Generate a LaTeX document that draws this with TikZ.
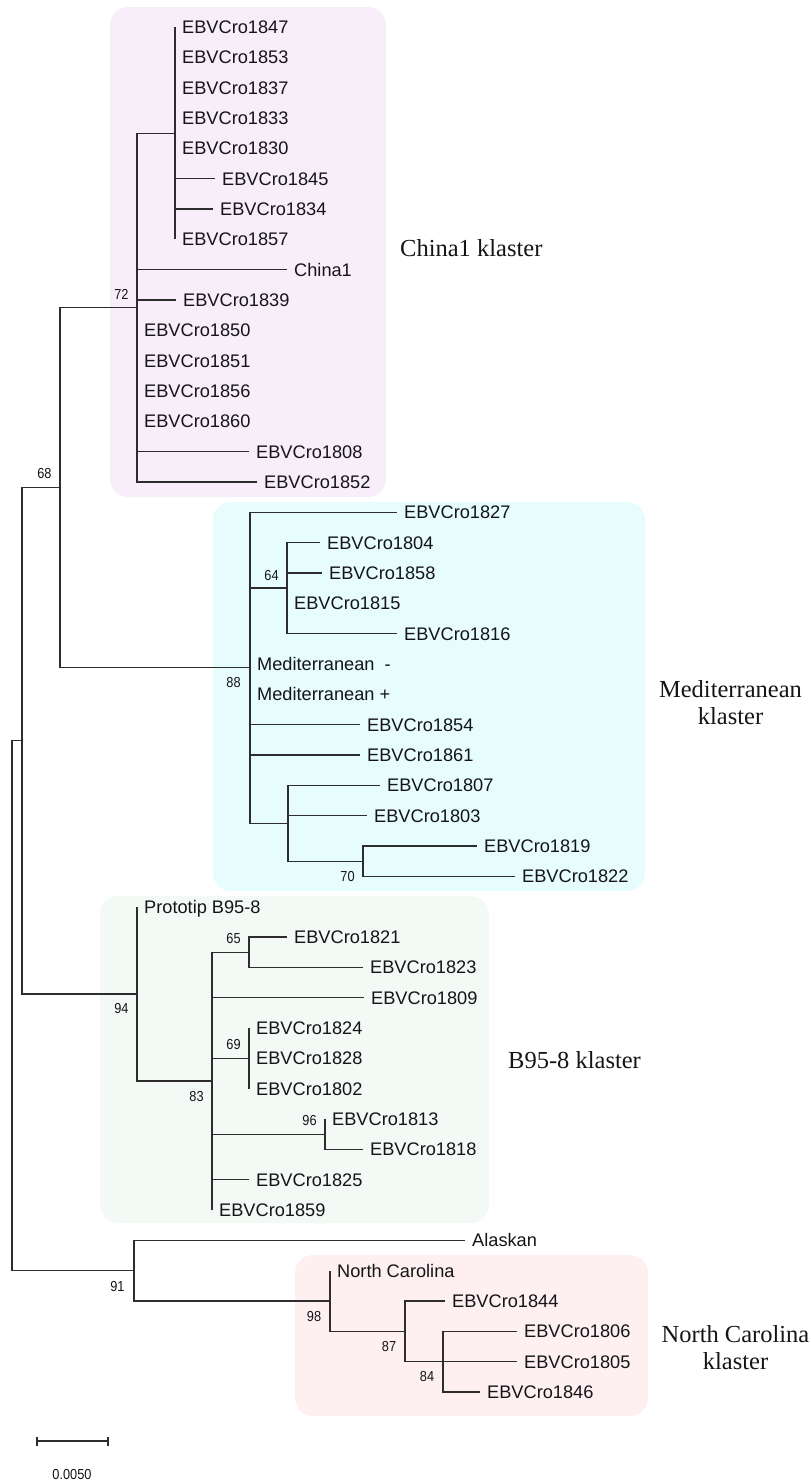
\documentclass[tikz,border=0pt]{standalone}
\usepackage{fontspec}
\newfontfamily\lsans{Liberation Sans}
\newfontfamily\lsansn[FakeStretch=0.88]{Liberation Sans}
\newfontfamily\lserif{Liberation Serif}
\definecolor{chinaC}{RGB}{248,238,249}
\definecolor{medC}{RGB}{230,252,253}
\definecolor{bC}{RGB}{243,250,246}
\definecolor{ncC}{RGB}{254,240,240}
\definecolor{lineC}{RGB}{45,45,45}
\definecolor{txtC}{RGB}{20,20,25}
\tikzset{
  leaf/.style={anchor=west, inner xsep=7pt, inner ysep=0pt, text=txtC,
    font=\lsans\fontsize{18.2}{20}\selectfont, text height=13pt, text depth=0pt},
  boot/.style={inner sep=0pt, text=txtC, font=\lsansn\fontsize{14.5}{16}\selectfont},
  br/.style={line width=1.3pt, draw=lineC},
  clus/.style={inner sep=0pt, text=txtC, align=center,
    font=\lserif\fontsize{24.5}{27}\selectfont},
  cbox/.style={rounded corners=18pt}
}
\begin{document}
\begin{tikzpicture}[x=1pt,y=-1pt]
\useasboundingbox (0,0) rectangle (811,1483);
% cluster backgrounds
\fill[chinaC, cbox] (110,7) rectangle (386,497);
\fill[medC, cbox] (213,502) rectangle (645,891);
\fill[bC, cbox] (100,896) rectangle (489,1223);
\fill[ncC, cbox] (295,1255) rectangle (648,1416);

% internal nodes
\coordinate (na) at (175,133.2);
\coordinate (n72) at (137,307.6);
\coordinate (n64) at (287,588.1);
\coordinate (n70) at (363,861.2);
\coordinate (nb) at (288,823.2);
\coordinate (n88) at (250,667.8);
\coordinate (n68) at (60,487.7);
\coordinate (n65) at (249,952.2);
\coordinate (n69) at (249,1058.3);
\coordinate (n96) at (325,1134.2);
\coordinate (n83) at (212,1081.1);
\coordinate (n94) at (137,993.9);
\coordinate (nA) at (22,740.8);
\coordinate (n84) at (443,1361.7);
\coordinate (n87) at (405,1331.3);
\coordinate (n98) at (330,1301);
\coordinate (n91) at (134,1270.6);
\coordinate (root) at (12,1005.7);

% leaves
\node[leaf] (l0) at (175,27) {EBVCro1847};
\node[leaf] (l1) at (175,57.3) {EBVCro1853};
\node[leaf] (l2) at (175,87.7) {EBVCro1837};
\node[leaf] (l3) at (175,118) {EBVCro1833};
\node[leaf] (l4) at (175,148.3) {EBVCro1830};
\node[leaf] (l5) at (215,178.7) {EBVCro1845};
\node[leaf] (l6) at (213,209) {EBVCro1834};
\node[leaf] (l7) at (175,239.3) {EBVCro1857};
\node[leaf] (l8) at (287,269.6) {China1};
\node[leaf] (l9) at (176,300) {EBVCro1839};
\node[leaf] (l10) at (137,330.3) {EBVCro1850};
\node[leaf] (l11) at (137,360.6) {EBVCro1851};
\node[leaf] (l12) at (137,391) {EBVCro1856};
\node[leaf] (l13) at (137,421.3) {EBVCro1860};
\node[leaf] (l14) at (249,451.6) {EBVCro1808};
\node[leaf] (l15) at (257,482) {EBVCro1852};
\node[leaf] (l16) at (397,512.3) {EBVCro1827};
\node[leaf] (l17) at (320,542.6) {EBVCro1804};
\node[leaf] (l18) at (322,573) {EBVCro1858};
\node[leaf] (l19) at (287,603.3) {EBVCro1815};
\node[leaf] (l20) at (397,633.6) {EBVCro1816};
\node[leaf] (l21) at (250,664) {Mediterranean\ \ -};
\node[leaf] (l22) at (250,694.3) {Mediterranean +};
\node[leaf] (l23) at (360,724.6) {EBVCro1854};
\node[leaf] (l24) at (360,755) {EBVCro1861};
\node[leaf] (l25) at (380,785.3) {EBVCro1807};
\node[leaf] (l26) at (367,815.6) {EBVCro1803};
\node[leaf] (l27) at (477,846) {EBVCro1819};
\node[leaf] (l28) at (515,876.3) {EBVCro1822};
\node[leaf] (l29) at (137,906.6) {Prototip B95-8};
\node[leaf] (l30) at (287,937) {EBVCro1821};
\node[leaf] (l31) at (363,967.3) {EBVCro1823};
\node[leaf] (l32) at (364,997.6) {EBVCro1809};
\node[leaf] (l33) at (249,1028) {EBVCro1824};
\node[leaf] (l34) at (249,1058.3) {EBVCro1828};
\node[leaf] (l35) at (249,1088.6) {EBVCro1802};
\node[leaf] (l36) at (325,1119) {EBVCro1813};
\node[leaf] (l37) at (363,1149.3) {EBVCro1818};
\node[leaf] (l38) at (249,1179.6) {EBVCro1825};
\node[leaf] (l39) at (212,1210) {EBVCro1859};
\node[leaf] (l40) at (465,1240.3) {Alaskan};
\node[leaf] (l41) at (330,1270.6) {North Carolina};
\node[leaf] (l42) at (445,1301) {EBVCro1844};
\node[leaf] (l43) at (517,1331.3) {EBVCro1806};
\node[leaf] (l44) at (517,1361.6) {EBVCro1805};
\node[leaf] (l45) at (480,1392) {EBVCro1846};

% branches between internal nodes
\foreach \p/\c in {root/nA, root/n91, nA/n68, nA/n94, n68/n72, n68/n88,
  n72/na, n88/n64, n88/nb, nb/n70, n94/n83, n83/n65, n83/n69, n83/n96,
  n91/n98, n98/n87, n87/n84}
  \draw[br] (\p) |- (\c);
% branches to leaves
\foreach \p/\c in {na/l0, na/l1, na/l2, na/l3, na/l4, na/l5, na/l6, na/l7,
  n72/l8, n72/l9, n72/l10, n72/l11, n72/l12, n72/l13, n72/l14, n72/l15,
  n88/l16, n64/l17, n64/l18, n64/l19, n64/l20, n88/l21, n88/l22, n88/l23, n88/l24,
  nb/l25, nb/l26, n70/l27, n70/l28, n94/l29, n65/l30, n65/l31, n83/l32,
  n69/l33, n69/l34, n69/l35, n96/l36, n96/l37, n83/l38, n83/l39,
  n91/l40, n98/l41, n87/l42, n84/l43, n84/l44, n84/l45}
  \draw[br] (\p) |- (\c.west);

% bootstrap values
\node[boot] (b72) at ([shift={(-15.5,-13)}]n72) {72};
\node[boot] (b68) at ([shift={(-15.5,-14.5)}]n68) {68};
\node[boot] (b64) at ([shift={(-15.5,-13)}]n64) {64};
\node[boot] (b88) at ([shift={(-16.5,15)}]n88) {88};
\node[boot] (b70) at ([shift={(-15.5,15.5)}]n70) {70};
\node[boot] (b94) at ([shift={(-15.5,15)}]n94) {94};
\node[boot] (b83) at ([shift={(-15.5,15.5)}]n83) {83};
\node[boot] (b65) at ([shift={(-15.5,-14)}]n65) {65};
\node[boot] (b69) at ([shift={(-15.5,-14)}]n69) {69};
\node[boot] (b96) at ([shift={(-15.5,-14)}]n96) {96};
\node[boot] (b91) at ([shift={(-16.5,15.5)}]n91) {91};
\node[boot] (b98) at ([shift={(-16,15.5)}]n98) {98};
\node[boot] (b87) at ([shift={(-16,15)}]n87) {87};
\node[boot] (b84) at ([shift={(-16,15)}]n84) {84};

% cluster names
\node[clus, anchor=west] (cc) at (400,248) {China1 klaster};
\node[clus] (cm) at (730.5,703) {Mediterranean\\klaster};
\node[clus, anchor=west] (cb) at (508,1060) {B95-8 klaster};
\node[clus] (cn) at (735.5,1348) {North Carolina\\klaster};

% scale bar
\coordinate (sb1) at (37,1441);
\coordinate (sb2) at (108,1441);
\draw[br, line width=1.2pt] (sb1) -- (sb2);
\draw[br, line width=1.2pt] ([yshift=-4.5pt]sb1) -- ([yshift=4.5pt]sb1);
\draw[br, line width=1.2pt] ([yshift=-4.5pt]sb2) -- ([yshift=4.5pt]sb2);
\node[boot] (sbl) at (72,1474) {0.0050};
\end{tikzpicture}
\end{document}
